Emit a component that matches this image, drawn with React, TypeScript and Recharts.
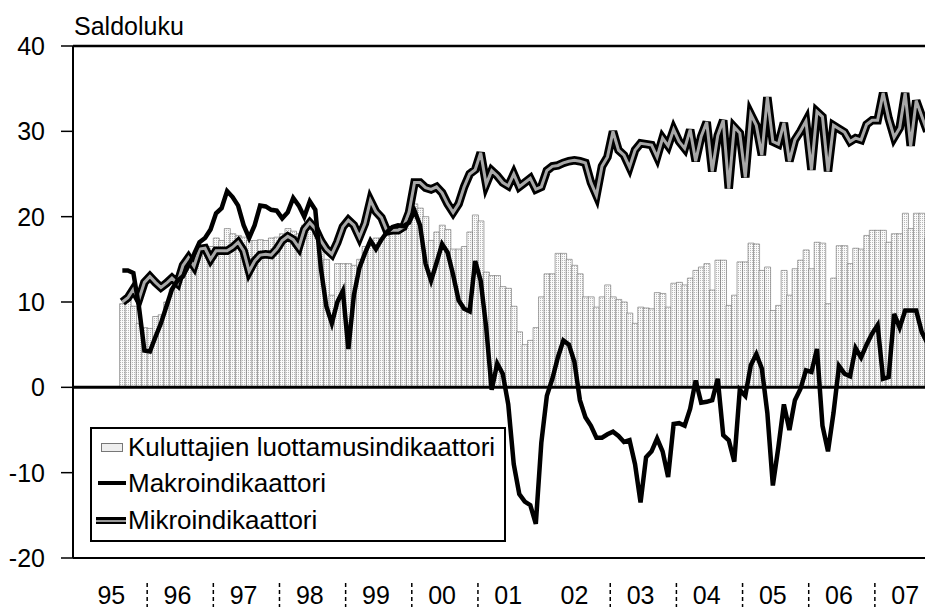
import React from "react";
import { ComposedChart, Bar, Line, XAxis, YAxis, ReferenceLine } from "recharts";

// monthly series, first value = Aug 1995
const firstYear = 1995;
const firstMonth = 7;
const lastYear = 2007;

const yearLabels = ["95", "96", "97", "98", "99", "00", "01", "02", "03", "04", "05", "06", "07"];
const yTicks = [-20, -10, 0, 10, 20, 30, 40];

const kuluttajat = [
  9.8, 10.2, 9.5, 7.5, 7, 6.9, 8.3, 8.5, 10, 11.5,
  12.5, 13, 14, 15, 15.5, 15.8, 16.5, 17.5, 17.2, 18.6,
  18, 17.8, 17.6, 17.2, 17.2, 17.3, 17.2, 17.5, 17.6, 18,
  18.6, 18.3, 18, 19, 19.3, 19, 17.5, 15, 10.8, 14.5,
  14.5, 14.5, 14.3, 15, 16.5, 17, 17.5, 17.5, 17.8, 18,
  18.2, 18.5, 19.5, 21.5, 21, 20, 17.2, 18.2, 19, 18.5,
  16.2, 16.2, 16.5, 18.2, 20.2, 19.5, 13.5, 13.1, 13.1, 11.8,
  11.6, 9.5, 6.5, 5, 5.5, 7, 10.6, 13.3, 13.3, 15.7,
  15.7, 15, 14.3, 13.3, 10.6, 10.6, 9.4, 10.6, 12, 10.6,
  10.3, 10, 8.7, 7.5, 9.4, 9.3, 9.2, 11.1, 11, 9.4,
  12.2, 12.3, 12, 12.8, 13.7, 14.1, 14.5, 11.4, 14.9, 14.9,
  9.6, 10.8, 14.7, 14.7, 16.9, 16.8, 13.7, 14.1, 9, 9.6,
  13.7, 10.8, 13.9, 14.9, 16.1, 13.9, 17, 16.9, 9.8, 12.8,
  16.6, 16.6, 14.5, 16.3, 16.2, 17.8, 18.4, 18.4, 18.4, 17,
  18, 18, 20.4, 18.6, 20.4, 20.4, 17.5,
];

const makro = [
  13.7, 13.7, 13.4, 9.5, 4.3, 4.2, 5.9, 7.5, 9.5, 11.5,
  12.5, 13, 14.3, 15.6, 17, 17.5, 18.5, 20.4, 21, 23,
  22.3, 21.3, 19, 17.5, 19, 21.3, 21.2, 20.8, 20.7, 19.8,
  20.5, 22.2, 21.3, 20, 21.8, 20.8, 14, 9.5, 7.5, 10,
  11.3, 4.5, 10.8, 14, 15.7, 17.2, 16.2, 17.3, 18.2, 18.8,
  19, 18.9, 19.3, 20.7, 19, 14.5, 12.5, 14.6, 16.8, 15.8,
  13.2, 10.2, 9.2, 8.9, 14.8, 12.5, 7, -0.3, 2.8, 1.6,
  -2, -9, -12.5, -13.4, -13.8, -16, -6.5, -1, 1, 3.5,
  5.5, 5, 3, -1.5, -3.5, -4.5, -5.9, -5.9, -5.5, -5.2,
  -5.7, -6.4, -6.2, -9, -13.5, -8.2, -7.5, -6, -7.5, -10.5,
  -4.3, -4.2, -4.5, -2.5, 0.8, -1.8, -1.7, -1.5, 1, -5.6,
  -6.2, -8.7, -0.3, -1, 2.6, 3.9, 2.2, -3, -11.5, -7,
  -2, -5, -1.5, -0.2, 2, 1.8, 4.5, -4.5, -7.5, -3,
  2.5, 1.6, 1.3, 4.6, 3.5, 5, 6.3, 7.3, 1, 1.2,
  8.6, 7, 9, 9, 9, 6.5, 5.2,
];

const mikro = [
  10, 10.5, 11.5, 10.3, 12.3, 13, 12.3, 11.7, 12.2, 12.8,
  12.2, 14.3, 15.2, 14.2, 16.2, 16.3, 15, 16, 16, 16,
  16.4, 17, 16, 13.6, 14.8, 15.5, 15.6, 15.5, 16.2, 17.2,
  17.7, 17.3, 16.4, 18.5, 19.3, 18.6, 17.2, 16.2, 15.6, 17,
  18.8, 19.6, 19, 17.6, 19.2, 21.9, 20.6, 19.9, 18.3, 18.4,
  18.4, 18.8, 20.5, 24, 24, 23.4, 23.2, 23.5, 22.8, 21.5,
  20.5, 21.5, 23.5, 25, 25.5, 27.5, 23.8, 25.4, 24.8, 24,
  23.6, 25, 23.5, 24, 24.5, 23.2, 23.5, 25.4, 25.9, 26,
  26.3, 26.5, 26.6, 26.5, 26.3, 24, 22.5, 25.9, 27, 30,
  27.8, 27.2, 25.8, 27.8, 28.6, 28.5, 28.4, 27, 29.2, 28.3,
  30.2, 28.8, 28, 30.2, 26.5, 29.4, 31.1, 25.3, 29.5, 31.3,
  23.3, 30.5, 29.8, 24.6, 32, 30.7, 27.2, 34, 28.8, 28.5,
  31, 26.5, 29, 30, 31.2, 25.5, 32.3, 31.7, 25.3, 30.7,
  30.3, 29.9, 28.8, 29.2, 29, 30.8, 31.3, 31.3, 34.5, 31.5,
  29.3, 30.4, 34.5, 28.3, 33.6, 31.8, 30,
];

type Row = { month: string; kuluttajat: number | null; makro: number | null; mikro: number | null };

const rows: Row[] = [];
for (let y = firstYear; y <= lastYear; y++) {
  for (let m = 0; m < 12; m++) {
    const k = (y - firstYear) * 12 + m - firstMonth;
    const has = k >= 0 && k < kuluttajat.length;
    rows.push({
      month: `${y}-${String(m + 1).padStart(2, "0")}`,
      kuluttajat: has ? kuluttajat[k] : null,
      makro: has ? makro[k] : null,
      mikro: has ? mikro[k] : null,
    });
  }
}

const yearTicks = yearLabels.map((_, i) => `${firstYear + i}-06`);

const FONT = "'Liberation Sans', Arial, sans-serif";

function YearTick(props: any) {
  const { x, y, payload } = props;
  const label = String(payload.value).slice(2, 4);
  const showSep = label !== "95" && label !== "02";
  return (
    <g>
      {showSep && (
        <line x1={x - 30.3} x2={x - 30.3} y1={y + 25} y2={y + 49} stroke="#000" strokeWidth={1.5} strokeDasharray="4 3" />
      )}
      <text x={x} y={y + 46} textAnchor="middle" fontSize={25} fontFamily={FONT} fill="#000">
        {label}
      </text>
    </g>
  );
}

function LegendBox() {
  const text: React.CSSProperties = {
    position: "absolute",
    left: 36,
    fontSize: 26,
    lineHeight: "26px",
    fontFamily: FONT,
    color: "#000",
    whiteSpace: "nowrap",
  };
  return (
    <div
      style={{
        position: "absolute",
        left: 82,
        top: 419,
        width: 412,
        height: 111,
        border: "2px solid #000",
        background: "#fff",
      }}
    >
      <div style={{ position: "absolute", left: 9, top: 14, width: 20, height: 7, border: "1px solid #777", background: "#eee" }} />
      <div style={{ ...text, top: 5 }}>Kuluttajien luottamusindikaattori</div>
      <div style={{ position: "absolute", left: 6, top: 52, width: 28, height: 4, background: "#000" }} />
      <div style={{ ...text, top: 41 }}>Makroindikaattori</div>
      <div style={{ position: "absolute", left: 4, top: 88, width: 30, height: 7, background: "#000" }} />
      <div style={{ position: "absolute", left: 4, top: 90.5, width: 30, height: 2, background: "#999" }} />
      <div style={{ ...text, top: 78 }}>Mikroindikaattori</div>
    </div>
  );
}

export default function App() {
  return (
    <div style={{ position: "relative", width: 924, height: 602, overflow: "hidden" }}>
      <ComposedChart
        width={935}
        height={602}
        data={rows}
        margin={{ top: 38, right: 2, bottom: 0, left: 0 }}
        barCategoryGap={0}
      >
        <defs>
          <pattern id="dots" width="2" height="2" patternUnits="userSpaceOnUse">
            <rect width="2" height="2" fill="#fafafa" />
            <rect width="1" height="1" fill="#b8b8b8" />
          </pattern>
        </defs>
        <XAxis
          dataKey="month"
          ticks={yearTicks}
          interval={0}
          height={52}
          padding={{ left: 8, right: 0 }}
          axisLine={{ stroke: "#000", strokeWidth: 2 }}
          tickLine={false}
          tickSize={0}
          tickMargin={0}
          tick={<YearTick />}
        />
        <YAxis
          domain={[-20, 40]}
          ticks={yTicks}
          width={65}
          interval={0}
          axisLine={{ stroke: "#000", strokeWidth: 2 }}
          tickLine={{ stroke: "#000", strokeWidth: 1.5 }}
          tickSize={12}
          tickMargin={16}
          tick={{ fill: "#000", fontSize: 25, fontFamily: FONT }}
        />
        <ReferenceLine y={40} stroke="#000" strokeWidth={2.5} />
        <Bar dataKey="kuluttajat" fill="url(#dots)" stroke="#6a6a6a" strokeWidth={0.6} isAnimationActive={false} />
        <ReferenceLine y={0} stroke="#000" strokeWidth={3} />
        <Line
          type="linear"
          dataKey="mikro"
          stroke="#000"
          strokeWidth={8.5}
          strokeLinejoin="miter"
          strokeMiterlimit={4}
          dot={false}
          activeDot={false}
          isAnimationActive={false}
        />
        <Line
          type="linear"
          dataKey="mikro"
          stroke="#a8a8a8"
          strokeWidth={3}
          dot={false}
          activeDot={false}
          isAnimationActive={false}
        />
        <Line
          type="linear"
          dataKey="makro"
          stroke="#000"
          strokeWidth={4.5}
          dot={false}
          activeDot={false}
          isAnimationActive={false}
        />
      </ComposedChart>
      <div
        style={{
          position: "absolute",
          left: 66,
          top: 6,
          fontSize: 25,
          lineHeight: "25px",
          fontFamily: FONT,
          color: "#000",
        }}
      >
        Saldoluku
      </div>
      <LegendBox />
    </div>
  );
}
